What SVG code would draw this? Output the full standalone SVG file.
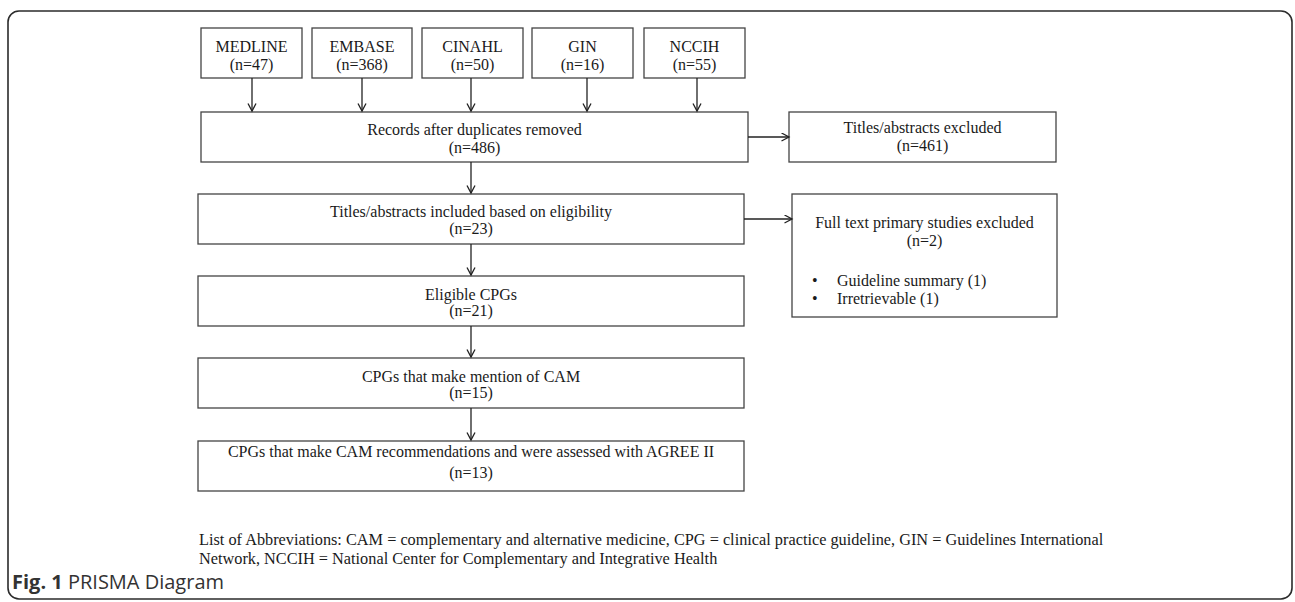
<svg xmlns="http://www.w3.org/2000/svg" width="1295" height="602" viewBox="0 0 1295 602">
<style>
.box{fill:#fff;stroke:#444;stroke-width:1.3}
.t{font-family:"Liberation Serif",serif;font-size:16px;fill:#1a1a1a;text-anchor:middle}
.tl{font-family:"Liberation Serif",serif;font-size:16px;fill:#1a1a1a}
.ab{font-family:"Liberation Serif",serif;font-size:16.3px;fill:#1a1a1a}
.con{stroke:#222;stroke-width:1.3;fill:none}
.cap{font-family:"Open Sans",sans-serif;font-size:20px;fill:#333}
</style>
<defs>
<marker id="ah" markerUnits="userSpaceOnUse" markerWidth="10" markerHeight="10" refX="8" refY="4.5" orient="auto" viewBox="0 0 10 10">
<path d="M0.5,0.5 L8,4.5 L0.5,8.5" fill="none" stroke="#222" stroke-width="1.3"/>
</marker>
</defs>
<rect x="8" y="11" width="1284" height="588" rx="11" ry="11" fill="#fff" stroke="#2b2b2b" stroke-width="1.6"/>

<g id="medline"><rect class="box" x="201" y="28" width="101" height="50"/><text class="t" x="251.5" y="52">MEDLINE</text><text class="t" x="251.5" y="70">(n=47)</text></g>
<g id="embase"><rect class="box" x="312" y="28" width="100" height="50"/><text class="t" x="362" y="52">EMBASE</text><text class="t" x="362" y="70">(n=368)</text></g>
<g id="cinahl"><rect class="box" x="422" y="28" width="101" height="50"/><text class="t" x="472.5" y="52">CINAHL</text><text class="t" x="472.5" y="70">(n=50)</text></g>
<g id="gin"><rect class="box" x="532" y="28" width="101" height="50"/><text class="t" x="582.5" y="52">GIN</text><text class="t" x="582.5" y="70">(n=16)</text></g>
<g id="nccih"><rect class="box" x="644" y="28" width="101" height="50"/><text class="t" x="694.5" y="52">NCCIH</text><text class="t" x="694.5" y="70">(n=55)</text></g>

<g id="records"><rect class="box" x="201" y="112" width="547" height="50"/><text class="t" x="474.5" y="135">Records after duplicates removed</text><text class="t" x="474.5" y="153">(n=486)</text></g>
<g id="ta-excluded"><rect class="box" x="789" y="112" width="267" height="50"/><text class="t" x="922.5" y="133">Titles/abstracts excluded</text><text class="t" x="922.5" y="151">(n=461)</text></g>
<g id="ta-included"><rect class="box" x="198" y="194" width="546" height="50"/><text class="t" x="471" y="217">Titles/abstracts included based on eligibility</text><text class="t" x="471" y="234">(n=23)</text></g>
<g id="ft-excluded"><rect class="box" x="792" y="194" width="265" height="123"/><text class="t" x="924.5" y="228">Full text primary studies excluded</text><text class="t" x="924.5" y="246">(n=2)</text><text class="tl" x="812" y="286">•</text><text class="tl" x="837" y="286">Guideline summary (1)</text><text class="tl" x="812" y="304">•</text><text class="tl" x="837" y="304">Irretrievable (1)</text></g>
<g id="eligible"><rect class="box" x="198" y="276" width="546" height="50"/><text class="t" x="471" y="300">Eligible CPGs</text><text class="t" x="471" y="316">(n=21)</text></g>
<g id="mention"><rect class="box" x="198" y="358" width="546" height="50"/><text class="t" x="471" y="382">CPGs that make mention of CAM</text><text class="t" x="471" y="398">(n=15)</text></g>
<g id="recommend"><rect class="box" x="198" y="441" width="546" height="50"/><text class="t" x="471" y="457">CPGs that make CAM recommendations and were assessed with AGREE II</text><text class="t" x="471" y="478">(n=13)</text></g>

<g id="connectors">
<line class="con" x1="252" y1="78" x2="252" y2="111" marker-end="url(#ah)"/>
<line class="con" x1="362" y1="78" x2="362" y2="111" marker-end="url(#ah)"/>
<line class="con" x1="471" y1="78" x2="471" y2="111" marker-end="url(#ah)"/>
<line class="con" x1="587" y1="78" x2="587" y2="111" marker-end="url(#ah)"/>
<line class="con" x1="697" y1="78" x2="697" y2="111" marker-end="url(#ah)"/>
<line class="con" x1="748" y1="137" x2="789" y2="137" marker-end="url(#ah)"/>
<line class="con" x1="471" y1="162" x2="471" y2="193" marker-end="url(#ah)"/>
<line class="con" x1="744" y1="219" x2="792" y2="219" marker-end="url(#ah)"/>
<line class="con" x1="471" y1="244" x2="471" y2="275" marker-end="url(#ah)"/>
<line class="con" x1="471" y1="326" x2="471" y2="357" marker-end="url(#ah)"/>
<line class="con" x1="471" y1="408" x2="471" y2="440" marker-end="url(#ah)"/>
</g>

<text class="ab" x="199" y="545">List of Abbreviations: CAM = complementary and alternative medicine, CPG = clinical practice guideline, GIN = Guidelines International</text>
<text class="ab" x="199" y="564">Network, NCCIH = National Center for Complementary and Integrative Health</text>
<text class="cap" x="12" y="589"><tspan font-weight="bold">Fig. 1</tspan> PRISMA Diagram</text>
</svg>
